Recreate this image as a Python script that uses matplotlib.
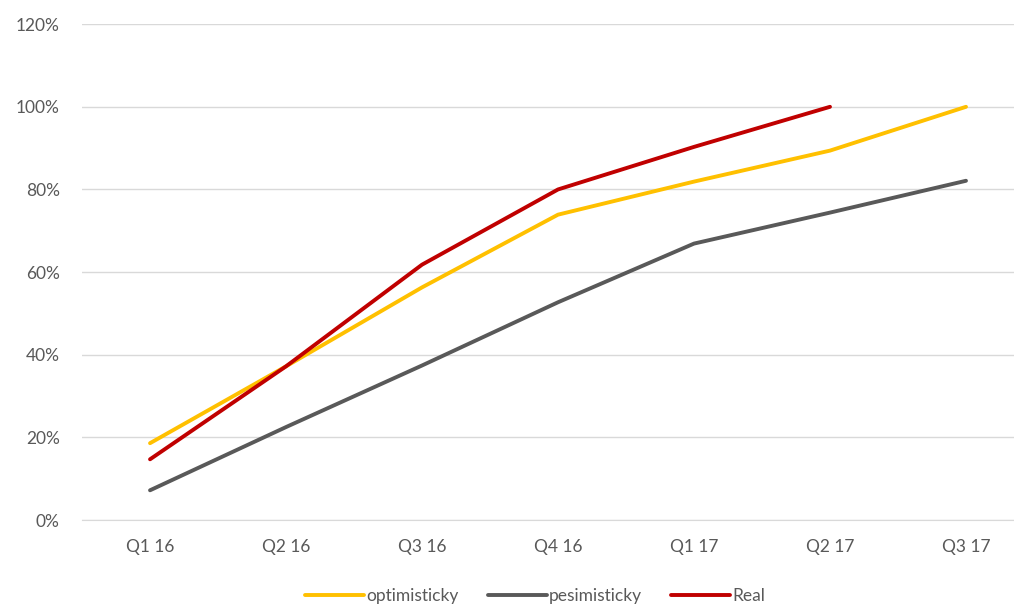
import numpy as np
import matplotlib.pyplot as plt
from matplotlib.ticker import PercentFormatter

plt.rcParams['font.family'] = ['Lato', 'DejaVu Sans']

quarters = ['Q1 16', 'Q2 16', 'Q3 16', 'Q4 16', 'Q1 17', 'Q2 17', 'Q3 17']
optimisticky = [18.6, 37.2, 56.3, 73.9, 81.9, 89.4, 100.0]
pesimisticky = [7.2, 22.5, 37.4, 52.7, 66.9, 74.4, 82.1]
real = [14.7, 37.2, 61.8, 80.0, 90.3, 100.0]

fig = plt.figure(figsize=(10.14, 6.04), dpi=100)
# plot area runs off the right edge, like the cropped original
ax = fig.add_axes([0.0809, 0.139, 0.9191, 0.821])

x = np.arange(len(quarters))
ax.plot(x, optimisticky, color='#FFC000', lw=2.8, solid_capstyle='round', label='optimisticky')
ax.plot(x, pesimisticky, color='#595959', lw=2.8, solid_capstyle='round', label='pesimisticky')
ax.plot(x[:len(real)], real, color='#C00000', lw=2.8, solid_capstyle='round', label='Real')

ax.set_xlim(-0.5, 6.353)
ax.set_ylim(0, 120)
ax.set_yticks(np.arange(0, 121, 20))
ax.yaxis.set_major_formatter(PercentFormatter(decimals=0))
ax.set_xticks(x)
ax.set_xticklabels(quarters)
ax.grid(axis='y', color='#D9D9D9', lw=1)
ax.set_axisbelow(True)
for s in ['top', 'right', 'left']:
    ax.spines[s].set_visible(False)
ax.spines['bottom'].set_color('#D9D9D9')
ax.tick_params(axis='both', length=0, colors='#595959', labelsize=12.5)
ax.tick_params(axis='x', pad=14)
ax.tick_params(axis='y', pad=16)

ax.legend(loc='upper center', bbox_to_anchor=(0.486, -0.105), ncol=3, frameon=False,
          fontsize=12.5, handlelength=3.4, handletextpad=0.1, columnspacing=1.7,
          labelcolor='#595959')

fig.savefig('out.png', dpi=100)
